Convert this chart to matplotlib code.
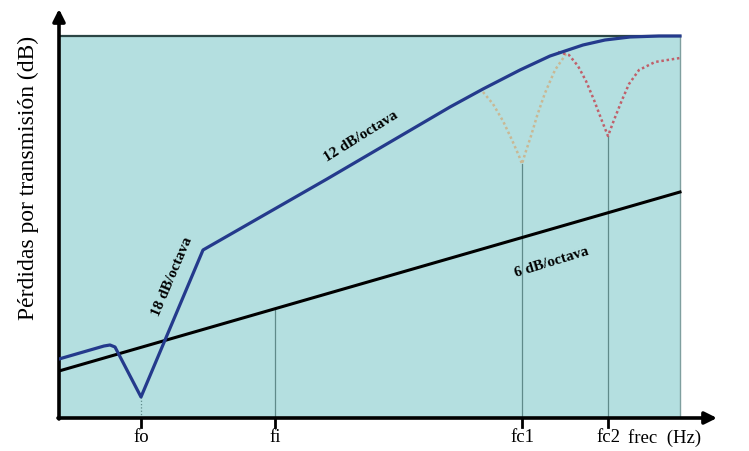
import matplotlib.pyplot as plt
from matplotlib.patches import Rectangle

plt.rcParams['font.family'] = ['Liberation Serif', 'DejaVu Serif']

# curva de pérdidas real (azul)
blue_x = [0, 45, 51, 56, 82, 144, 268, 391, 424, 461, 491, 524, 546, 571, 600, 621]
blue_y = [59, 72, 73, 71, 21, 168, 239, 311, 329, 348, 362, 373, 378, 381, 382, 382]

# ley de masa 6 dB/octava
mass_x = [0, 621]
mass_y = [47, 226]

# coincidencias (punteadas)
fc1_x = [424, 434, 444, 453, 460, 463, 466, 472, 478, 486, 496, 507]
fc1_y = [326, 314, 297, 278, 262, 254, 264, 282, 302, 325, 348, 364]
fc2_x = [499, 510, 519, 527, 535, 543, 549, 555, 563, 570, 580, 596, 621]
fc2_y = [366, 363, 352, 337, 318, 297, 282, 298, 318, 334, 348, 356, 360]

tick_pos = [82, 216, 463, 549]
tick_lab = ["fo", "fi", "fc1", "fc2"]
guide_top = [21, 109, 254, 282]

x_max, y_max = 658, 409
box_w, box_h = 621, 382

fig = plt.figure(figsize=(7.49, 4.52), dpi=100)
ax = fig.add_axes([59 / 749, 33 / 452, 658 / 749, 409 / 452])
ax.set_xlim(0, x_max)
ax.set_ylim(0, y_max)
for s in ax.spines.values():
    s.set_visible(False)
ax.set_xticks([])
ax.set_yticks([])

ax.add_patch(Rectangle((0, 0), box_w, box_h, facecolor='#b4dfe0', edgecolor='none', zorder=0))
ax.plot([0, box_w], [box_h, box_h], color='#2b4545', lw=1.6, zorder=1)
ax.plot([box_w, box_w], [0, box_h], color='#7f9f9f', lw=1.0, zorder=1)

# líneas guía verticales
for x, top in zip(tick_pos, guide_top):
    ls = ':' if x == tick_pos[0] else '-'
    ax.plot([x, x], [0, top], color='#5f8a8a', lw=0.9, ls=ls, zorder=2)

ax.plot(fc1_x, fc1_y, color='#c9b894', lw=1.8, ls=(0, (1, 1.1)), zorder=3)
ax.plot(fc2_x, fc2_y, color='#c0606a', lw=1.8, ls=(0, (1, 1.1)), zorder=3)
ax.plot(mass_x, mass_y, color='black', lw=2.2, zorder=4)
ax.plot(blue_x, blue_y, color='#243a8c', lw=2.3, zorder=5)

# ejes con flechas
ax.annotate('', xy=(0, y_max), xytext=(0, -1),
            arrowprops=dict(arrowstyle='-|>', lw=2.6, color='black', mutation_scale=18, shrinkA=0, shrinkB=0),
            annotation_clip=False)
ax.annotate('', xy=(x_max, 0), xytext=(-1, 0),
            arrowprops=dict(arrowstyle='-|>', lw=2.6, color='black', mutation_scale=18, shrinkA=0, shrinkB=0),
            annotation_clip=False)

for x, lab in zip(tick_pos, tick_lab):
    ax.plot([x, x], [0, -9], color='black', lw=2, clip_on=False)
    ax.text(x, -10, lab, ha='center', va='top', fontsize=13.5)

ax.text(569, -10, "frec  (Hz)", ha='left', va='top', fontsize=13.5)
ax.text(-31, 241, "Pérdidas por transmisión (dB)", rotation=90, ha='center', va='center', fontsize=17)

ax.text(302, 282, "12 dB/octava", rotation=32, ha='center', va='center', fontsize=11, fontweight='bold')
ax.text(113, 142, "18 dB/octava", rotation=67, ha='center', va='center', fontsize=11, fontweight='bold')
ax.text(493, 157, "6 dB/octava", rotation=17, ha='center', va='center', fontsize=11, fontweight='bold')

fig.savefig('out.png', dpi=100)
